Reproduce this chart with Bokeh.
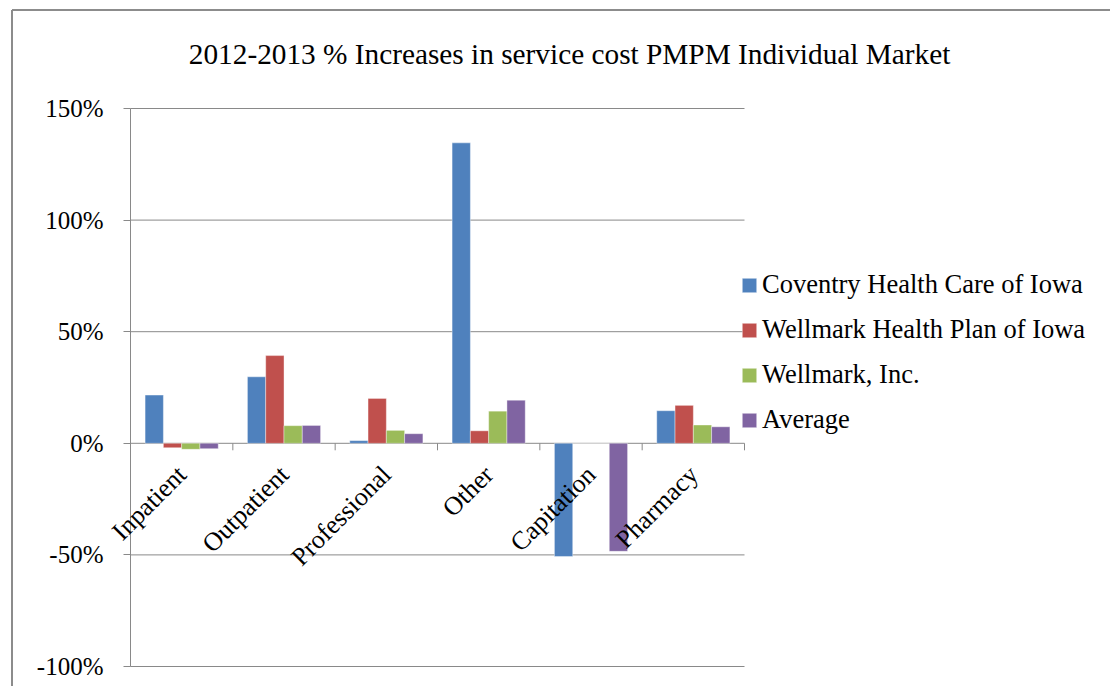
import math
from bokeh.plotting import figure
from bokeh.models import (Range1d, FixedTicker, PrintfTickFormatter, Label,
                          Legend, LegendItem, ColumnDataSource, LabelSet)
from bokeh.transform import dodge
from bokeh.embed import file_html
from bokeh.resources import INLINE

# ---- data ----
categories = ["Inpatient", "Outpatient", "Professional", "Other", "Capitation", "Pharmacy"]
series_names = ["Coventry Health Care of Iowa", "Wellmark Health Plan of Iowa",
                "Wellmark, Inc.", "Average"]
coventry = [21.6, 29.8, 1.2, 134.6, -50.7, 14.6]
wellmark_hp = [-2.0, 39.3, 20.1, 5.6, 0.0, 17.0]
wellmark_inc = [-2.7, 7.9, 5.8, 14.4, 0.0, 8.2]
average = [-2.4, 8.0, 4.3, 19.3, -48.4, 7.4]
y_ticks = [-100, -50, 0, 50, 100, 150]
title_text = "2012-2013 % Increases in service cost PMPM Individual Market"

colors = ["#4F81BD", "#C0504D", "#9BBB59", "#8064A2"]
SERIF = "Liberation Serif"
GRAY = "#898989"

# ---- layout (pixels) ----
W, H = 1110, 686
PLOT_L, PLOT_R, PLOT_T, PLOT_B = 130, 744, 108, 666
n_cat = len(categories)
ppx = (PLOT_R - PLOT_L) / n_cat                        # px per category
ppy = (PLOT_B - PLOT_T) / (y_ticks[-1] - y_ticks[0])    # px per percent
x_start = -PLOT_L / ppx
x_end = (W - PLOT_L) / ppx
y_end = y_ticks[-1] + PLOT_T / ppy
y_start = y_ticks[0] - (H - PLOT_B) / ppy

pos = [i + 0.5 for i in range(n_cat)]          # category centres on the x scale
source = ColumnDataSource(dict(
    pos=pos, cat=categories, s0=coventry, s1=wellmark_hp, s2=wellmark_inc, s3=average))

p = figure(width=W, height=H,
           x_range=Range1d(x_start, x_end), y_range=Range1d(y_start, y_end),
           output_backend="svg", toolbar_location=None, x_axis_location=None,
           min_border=0)
p.outline_line_color = None
p.background_fill_color = "white"
p.border_fill_color = "white"
p.ygrid.visible = False
p.xgrid.visible = False

# chart-area border (left and top edges)
bx = x_start + 11.5 / ppx
by = y_end - 9.5 / ppy
p.segment(x0=[bx, bx], y0=[by, by], x1=[bx, x_end], y1=[y_start, by],
          line_color="#8c8c8c", line_width=2)

# title
p.add_layout(Label(x=x_start + 188.3 / ppx, y=y_end - 53.3 / ppy, text=title_text,
                   text_font=SERIF, text_font_size="29.3px", text_color="black",
                   text_align="left", text_baseline="alphabetic"))

# y axis (drawn at the start of the category scale)
p.yaxis.fixed_location = 0
p.yaxis.bounds = (y_ticks[0], y_ticks[-1])
p.yaxis.ticker = FixedTicker(ticks=y_ticks)
p.yaxis.formatter = PrintfTickFormatter(format="%d%%")
p.yaxis.axis_line_color = GRAY
p.yaxis.major_tick_line_color = GRAY
p.yaxis.major_tick_out = 7
p.yaxis.major_tick_in = 0
p.yaxis.minor_tick_line_color = None
p.yaxis.major_label_text_font = SERIF
p.yaxis.major_label_text_font_size = "25px"
p.yaxis.major_label_text_color = "black"
p.yaxis.major_label_standoff = 20

# horizontal gridlines (and zero category axis) spanning the category area
p.segment(x0=[0] * len(y_ticks), y0=y_ticks, x1=[n_cat] * len(y_ticks), y1=y_ticks,
          line_color=GRAY, line_width=1)

offsets = [-0.268, -0.0893, 0.0893, 0.268]
bar_w = 0.179
renderers = []
for i, (name, col) in enumerate(zip(series_names, colors)):
    r = p.vbar(x=dodge("pos", offsets[i]), top="s%d" % i, bottom=0,
               width=bar_w, source=source, fill_color=col, line_color="white",
               line_alpha=0.4, line_width=1)
    renderers.append((name, r))

# category boundary ticks on the zero axis
bounds = list(range(1, n_cat + 1))
p.segment(x0=bounds, y0=[0] * len(bounds), x1=bounds,
          y1=[-7 / ppy] * len(bounds), line_color=GRAY, line_width=1)

# rotated category labels
labels = LabelSet(x="pos", y=-7.5, text="cat", source=source, angle=math.pi / 4,
                  x_offset=-10, text_align="right", text_baseline="top", text_font=SERIF,
                  text_font_size="26px", text_color="black")
p.add_layout(labels)

legend = Legend(items=[LegendItem(label=n, renderers=[r]) for n, r in renderers],
                location=(740, 251), orientation="vertical",
                glyph_width=18, glyph_height=18, label_standoff=4,
                label_height=30, spacing=14, padding=0, margin=0,
                border_line_color=None, background_fill_alpha=0,
                label_text_font=SERIF, label_text_font_size="26.5px",
                label_text_color="black")
p.add_layout(legend, "center")

open("out.html", "w").write(file_html(p, INLINE))
